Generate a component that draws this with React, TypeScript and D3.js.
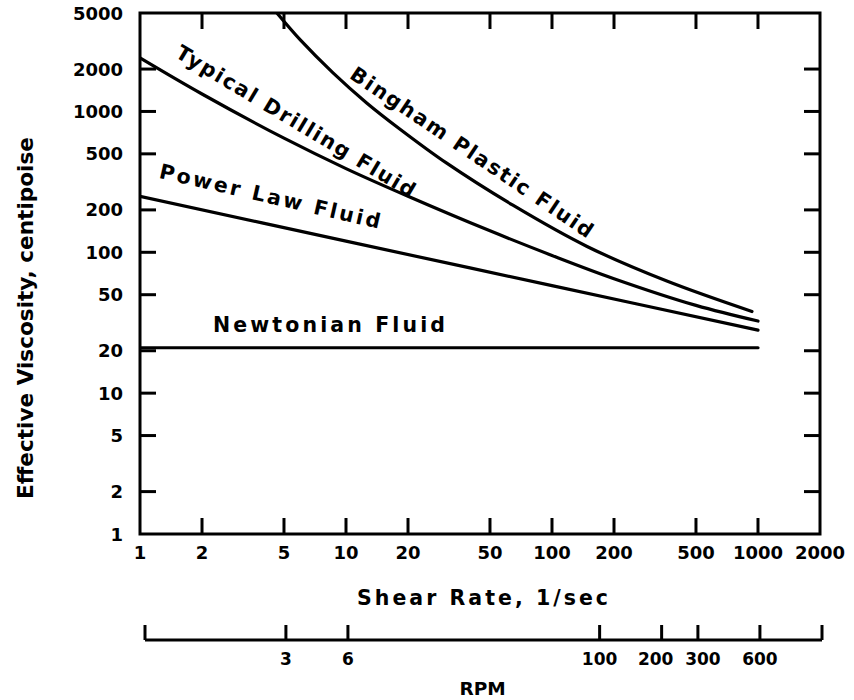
import React from "react";
import * as d3 from "d3";

// ---- data ----
const shearTicks = [1, 2, 5, 10, 20, 50, 100, 200, 500, 1000, 2000];
const viscTicks = [1, 2, 5, 10, 20, 50, 100, 200, 500, 1000, 2000, 5000];
const rpmTicks = [3, 6, 100, 200, 300, 600];
const RPM_TO_SHEAR = 1.703;

const newtonian: [number, number][] = [[1, 21], [1000, 21]];
const powerLaw: [number, number][] = [[1, 250], [10, 120], [100, 58], [1000, 28]];
const typical: [number, number][] = [
  [1, 2400], [2, 1330], [5, 646], [10, 393], [20, 250], [50, 142], [100, 95], [200, 65], [500, 42], [1000, 32.5],
];
const bingham: [number, number][] = [
  [4.62, 5000], [6, 3220], [8.65, 1880], [12.6, 1150], [18.3, 748], [30.7, 431], [64.6, 216], [148, 110], [361, 62.5], [935, 38],
];

const W = 854;
const H = 700;
const L = 140, R = 820, T = 13, B = 534;
const FONT = "'DejaVu Sans', Verdana, sans-serif";
const rpmLabelNudge: Record<number, number> = { 200: -6, 300: 5 };

export default function App() {
  const x = d3.scaleLog().domain([1, 2000]).range([L, R]);
  const y = d3.scaleLog().domain([1, 5000]).range([B, T]);
  const line = d3
    .line<[number, number]>()
    .x((d) => x(d[0]))
    .y((d) => y(d[1]))
    .curve(d3.curveCatmullRom.alpha(0.5));

  const tickLen = 16;
  const sw = 3;
  const rpmY = 640;

  return (
    <svg width={W} height={H} style={{ position: "absolute", left: 0, top: 0, background: "#fff" }}>
      <defs>
        <clipPath id="plot">
          <rect x={L} y={T} width={R - L} height={B - T} />
        </clipPath>
      </defs>

      {/* curves */}
      <g clipPath="url(#plot)" fill="none" stroke="#000" strokeWidth={3.2} strokeLinecap="round">
        <path d={line(newtonian) || ""} />
        <path d={line(powerLaw) || ""} />
        <path d={line(typical) || ""} />
        <path d={line(bingham) || ""} />
      </g>

      {/* frame */}
      <rect x={L} y={T} width={R - L} height={B - T} fill="none" stroke="#000" strokeWidth={sw} />

      {/* ticks */}
      <g stroke="#000" strokeWidth={sw}>
        {shearTicks.slice(1, -1).map((t) => (
          <g key={"xt" + t}>
            <line x1={x(t)} x2={x(t)} y1={B} y2={B - tickLen} />
            <line x1={x(t)} x2={x(t)} y1={T} y2={T + tickLen} />
          </g>
        ))}
        {viscTicks.slice(1, -1).map((t) => (
          <g key={"yt" + t}>
            <line x1={L} x2={L + tickLen} y1={y(t)} y2={y(t)} />
            <line x1={R} x2={R - tickLen} y1={y(t)} y2={y(t)} />
          </g>
        ))}
      </g>

      {/* tick labels */}
      <g fontFamily={FONT} fontWeight="bold" fontSize={18} fill="#000">
        {shearTicks.map((t) => (
          <text key={"xl" + t} x={x(t)} y={558.5} textAnchor="middle">
            {String(t)}
          </text>
        ))}
        {viscTicks.map((t) => (
          <text key={"yl" + t} x={123} y={y(t) + 6.5} textAnchor="end">
            {String(t)}
          </text>
        ))}
      </g>

      {/* axis titles */}
      <text x={482.5} y={605} textAnchor="middle" fontFamily={FONT} fontWeight="bold" fontSize={20.5} textLength={251} lengthAdjust="spacing">
        Shear Rate, 1/sec
      </text>
      <text
        transform={`translate(33,318) rotate(-90)`}
        textAnchor="middle"
        fontFamily={"'Liberation Sans Narrow', 'DejaVu Sans Condensed', 'Liberation Sans', Arial, sans-serif"}
        fontWeight="bold"
        fontSize={22}
        textLength={362}
        lengthAdjust="spacingAndGlyphs"
      >
        Effective Viscosity, centipoise
      </text>

      {/* RPM axis */}
      <g stroke="#000" strokeWidth={sw} fill="none">
        <line x1={L + 5} x2={R + 2} y1={rpmY} y2={rpmY} />
        <line x1={L + 5} x2={L + 5} y1={rpmY} y2={rpmY - 15} />
        <line x1={R + 2} x2={R + 2} y1={rpmY} y2={rpmY - 15} />
        {rpmTicks.map((r) => (
          <line key={"rt" + r} x1={x(r * RPM_TO_SHEAR)} x2={x(r * RPM_TO_SHEAR)} y1={rpmY} y2={rpmY - 15} />
        ))}
      </g>
      <g fontFamily={FONT} fontWeight="bold" fontSize={17} fill="#000">
        {rpmTicks.map((r) => (
          <text key={"rl" + r} x={x(r * RPM_TO_SHEAR) + (rpmLabelNudge[r] || 0)} y={664.5} textAnchor="middle">
            {String(r)}
          </text>
        ))}
      </g>
      <text x={482.5} y={695} textAnchor="middle" fontFamily={FONT} fontWeight="bold" fontSize={18.5}>
        RPM
      </text>

      {/* curve labels */}
      <g fontFamily={FONT} fontWeight="bold" fontSize={20.5} fill="#000">
        <text x={213} y={331.5} textLength={232} lengthAdjust="spacing">
          Newtonian Fluid
        </text>
        <text transform="translate(270,196) rotate(13)" textAnchor="middle" dy="0.36em" textLength={226} lengthAdjust="spacing">
          Power Law Fluid
        </text>
        <text transform="translate(296,121) rotate(31)" textAnchor="middle" dy="0.36em" textLength={275} lengthAdjust="spacing">
          Typical Drilling Fluid
        </text>
        <text transform="translate(472,152) rotate(34)" textAnchor="middle" dy="0.36em" textLength={288} lengthAdjust="spacing">
          Bingham Plastic Fluid
        </text>
      </g>
    </svg>
  );
}
